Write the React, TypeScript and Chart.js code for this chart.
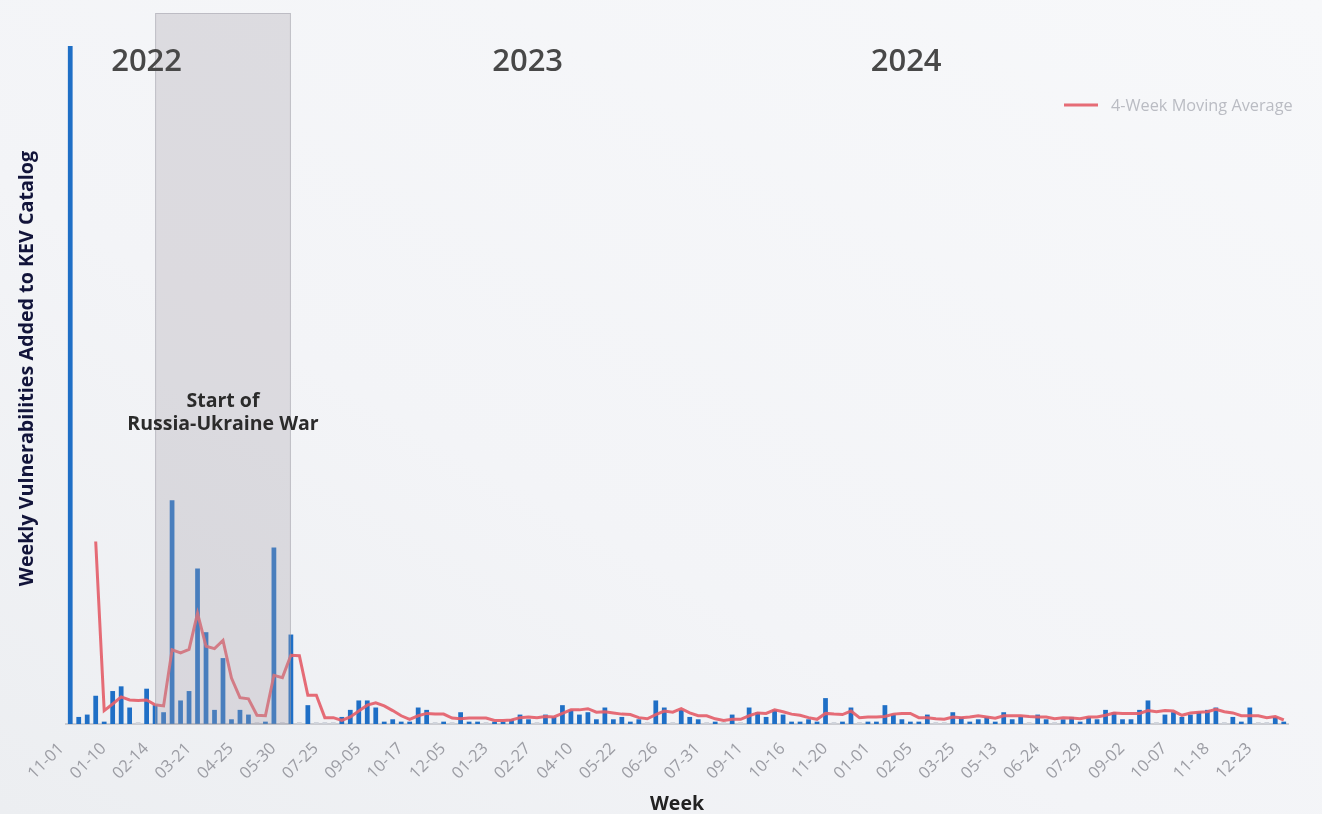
import React, { useEffect, useRef } from 'react';
import { Chart, registerables } from 'chart.js';

Chart.register(...registerables);

// Week start labels (MM-DD), one per category
const weekLabels: string[] = [
  '11-01', '11-15', '11-29', '12-13', '12-27',
  '01-10', '01-17', '01-24', '01-31', '02-07',
  '02-14', '02-21', '02-28', '03-07', '03-14',
  '03-21', '03-28', '04-04', '04-11', '04-18',
  '04-25', '05-02', '05-09', '05-16', '05-23',
  '05-30', '06-06', '06-13', '06-27', '07-11',
  '07-25', '08-01', '08-08', '08-22', '08-29',
  '09-05', '09-12', '09-19', '10-03', '10-10',
  '10-17', '10-24', '10-31', '11-14', '11-28',
  '12-05', '12-12', '12-19', '01-02', '01-09',
  '01-23', '01-30', '02-06', '02-13', '02-20',
  '02-27', '03-06', '03-13', '03-20', '04-03',
  '04-10', '04-17', '04-24', '05-01', '05-15',
  '05-22', '05-29', '06-05', '06-12', '06-19',
  '06-26', '07-03', '07-10', '07-17', '07-24',
  '07-31', '08-07', '08-14', '08-21', '09-04',
  '09-11', '09-18', '09-25', '10-02', '10-09',
  '10-16', '10-23', '10-30', '11-06', '11-13',
  '11-20', '11-27', '12-04', '12-11', '12-18',
  '01-01', '01-08', '01-15', '01-22', '01-29',
  '02-05', '02-12', '02-19', '03-04', '03-11',
  '03-25', '04-01', '04-15', '04-22', '04-29',
  '05-13', '05-20', '05-27', '06-03', '06-10',
  '06-24', '07-01', '07-08', '07-15', '07-22',
  '07-29', '08-05', '08-12', '08-19', '08-26',
  '09-02', '09-09', '09-16', '09-23', '09-30',
  '10-07', '10-14', '10-21', '10-28', '11-11',
  '11-18', '11-25', '12-02', '12-09', '12-16',
  '12-23', '12-30', '01-06', '01-13',
];

// Weekly vulnerabilities added to the KEV catalog
const weeklyAdded: number[] = [
  288, 3, 4, 12, 1, 14, 16, 7, 0, 15,
  8, 5, 95, 10, 14, 66, 39, 6, 28, 2,
  6, 4, 0, 1, 75, 0, 38, 0, 8, 0,
  0, 0, 3, 6, 10, 10, 7, 1, 2, 1,
  1, 7, 6, 0, 1, 0, 5, 1, 1, 0,
  1, 1, 2, 4, 2, 0, 4, 3, 8, 6,
  4, 5, 2, 7, 2, 3, 1, 2, 0, 10,
  7, 0, 6, 3, 2, 0, 1, 0, 4, 0,
  7, 5, 3, 6, 4, 1, 1, 2, 1, 11,
  0, 1, 7, 0, 1, 1, 8, 4, 2, 1,
  1, 4, 0, 0, 5, 3, 1, 2, 3, 1,
  5, 2, 3, 0, 4, 2, 0, 2, 3, 1,
  3, 2, 6, 5, 2, 2, 6, 10, 0, 4,
  5, 3, 4, 5, 6, 7, 0, 3, 1, 7,
  0, 0, 3, 1,
];

// 4-week moving average
const movingAverage: (number | null)[] = [
  null, null, null, 77.5, 5.7, 8.5, 11.5, 10.2, 10.0, 10.2,
  8.2, 7.7, 31.5, 30.2, 31.7, 47.0, 33.0, 32.0, 35.5, 19.5,
  11.2, 10.7, 3.7, 3.5, 20.7, 19.7, 29.2, 29.0, 12.2, 12.2,
  2.7, 2.7, 1.5, 3.0, 5.5, 8.0, 9.0, 7.7, 5.7, 3.5,
  2.0, 3.5, 4.5, 4.2, 4.2, 2.5, 2.2, 2.5, 2.5, 2.5,
  1.5, 1.5, 1.7, 2.7, 3.0, 2.7, 3.2, 3.0, 4.5, 6.0,
  6.0, 6.5, 5.0, 5.2, 4.7, 4.2, 4.0, 2.7, 2.2, 4.0,
  5.5, 5.0, 6.5, 4.7, 3.5, 3.5, 2.2, 1.5, 2.0, 2.0,
  3.5, 4.7, 4.5, 6.0, 5.2, 4.2, 3.7, 2.7, 2.0, 4.5,
  4.2, 4.0, 5.5, 2.7, 3.0, 3.0, 3.2, 4.2, 4.5, 4.5,
  2.7, 2.7, 2.2, 2.0, 3.0, 2.7, 3.0, 3.5, 3.0, 2.5,
  3.5, 3.5, 3.5, 3.2, 3.0, 3.0, 2.2, 2.7, 2.5, 2.2,
  3.0, 3.0, 3.7, 4.7, 4.5, 4.5, 4.5, 5.7, 5.2, 5.7,
  5.5, 3.7, 4.7, 5.0, 5.2, 6.2, 5.2, 4.7, 3.5, 3.5,
  3.5, 2.7, 3.2, 1.7,
];

// Annotations (category index positions)
const yearNames: string[] = ['2022', '2023', '2024'];
const yearIndex: number[] = [9, 53.9, 98.5];
const warLines: string[] = ['Start of', 'Russia-Ukraine War'];
const warStartIndex = 10;
const warEndIndex = 26;
const legendLabel = '4-Week Moving Average';

const FONT = "'Open Sans', 'Noto Sans', sans-serif";
const BAR_BLUE = '#1f6fc6';
const ZERO_GRAY = '#cfd3db';
const LINE_RED = 'rgba(228, 96, 106, 0.92)';

const overlayPlugin = {
  id: 'kevOverlay',
  afterDatasetsDraw(chart: any) {
    const { ctx, chartArea, scales } = chart;
    const xs = scales.x;
    const x0 = xs.getPixelForValue(warStartIndex);
    const x1 = xs.getPixelForValue(warEndIndex);
    ctx.save();
    ctx.fillStyle = 'rgba(167, 162, 171, 0.31)';
    ctx.fillRect(x0, chartArea.top, x1 - x0, chartArea.bottom - chartArea.top);
    ctx.strokeStyle = 'rgba(150, 150, 162, 0.45)';
    ctx.lineWidth = 1;
    ctx.strokeRect(x0 + 0.5, chartArea.top + 0.5, x1 - x0 - 1, chartArea.bottom - chartArea.top - 0.5);
    ctx.restore();
  },
  afterDraw(chart: any) {
    const { ctx, chartArea, scales } = chart;
    const xs = scales.x;
    const ys = scales.y;
    ctx.save();
    // year labels
    ctx.fillStyle = '#484848';
    ctx.font = `600 31px ${FONT}`;
    ctx.textAlign = 'center';
    ctx.textBaseline = 'middle';
    yearNames.forEach((name, i) => {
      ctx.fillText(name, xs.getPixelForValue(yearIndex[i]), ys.getPixelForValue(281));
    });
    // war annotation text
    ctx.fillStyle = '#2b2b2b';
    ctx.font = `bold 19.5px ${FONT}`;
    const cx = xs.getPixelForValue((warStartIndex + warEndIndex) / 2);
    const ty = ys.getPixelForValue(137);
    warLines.forEach((t, i) => ctx.fillText(t, cx, ty + i * 23));
    // legend
    const lx = chartArea.right - 224;
    const ly = 105;
    ctx.strokeStyle = LINE_RED;
    ctx.lineWidth = 3;
    ctx.beginPath();
    ctx.moveTo(lx, ly);
    ctx.lineTo(lx + 34, ly);
    ctx.stroke();
    ctx.fillStyle = '#babcc3';
    ctx.font = `16.3px ${FONT}`;
    ctx.textAlign = 'left';
    ctx.fillText(legendLabel, lx + 47, ly + 1);
    ctx.restore();
  },
};

export default function App() {
  const canvasRef = useRef<HTMLCanvasElement | null>(null);

  useEffect(() => {
    if (!canvasRef.current) return;
    const chart = new Chart(canvasRef.current, {
      type: 'bar',
      data: {
        labels: weekLabels,
        datasets: [
          {
            type: 'line',
            label: legendLabel,
            data: movingAverage,
            borderColor: LINE_RED,
            borderWidth: 3,
            pointRadius: 0,
            tension: 0,
            fill: false,
            order: 0,
          } as any,
          {
            type: 'bar',
            label: 'Weekly Vulnerabilities',
            data: weeklyAdded,
            backgroundColor: (c: any) => (c.raw === 0 ? ZERO_GRAY : BAR_BLUE),
            borderWidth: 0,
            minBarLength: 2,
            barPercentage: 0.56,
            categoryPercentage: 1,
            order: 1,
          } as any,
        ],
      },
      options: {
        animation: false,
        responsive: true,
        maintainAspectRatio: false,
        layout: { padding: { left: 12, top: 13, right: 34, bottom: 0 } },
        plugins: {
          legend: { display: false },
          tooltip: { enabled: false },
        },
        scales: {
          x: {
            grid: { display: false, drawTicks: false },
            border: { display: true, color: '#cbccd1', width: 2 },
            ticks: {
              autoSkip: false,
              minRotation: 45,
              maxRotation: 45,
              padding: 15,
              labelOffset: -9,
              color: '#9c9da4',
              font: { family: FONT, size: 16.5 },
              callback: (_v: any, i: number) => (i % 5 === 0 ? weekLabels[i] : null),
            },
            title: {
              display: true,
              text: 'Week',
              color: '#222222',
              font: { family: FONT, size: 19.5, weight: 'bold' },
              padding: { top: 0, bottom: -2 },
            },
            afterFit: (s: any) => {
              s.height = 90;
            },
          },
          y: {
            min: 0,
            max: 302,
            grid: { display: false },
            border: { display: false },
            ticks: { display: false },
            title: {
              display: true,
              text: 'Weekly Vulnerabilities Added to KEV Catalog',
              color: '#12143a',
              font: { family: FONT, size: 19.7, weight: 'bold' },
              padding: { top: 4, bottom: 4 },
            },
            afterFit: (s: any) => {
              s.width = 54;
            },
          },
        },
      },
      plugins: [overlayPlugin],
    });
    return () => chart.destroy();
  }, []);

  return (
    <div
      style={{
        position: 'fixed',
        left: 0,
        top: 0,
        width: 1322,
        height: 814,
        background: 'linear-gradient(30deg, #eceef1 0%, #f3f4f7 40%, #f7f8fa 100%)',
      }}
    >
      <canvas ref={canvasRef} />
    </div>
  );
}
